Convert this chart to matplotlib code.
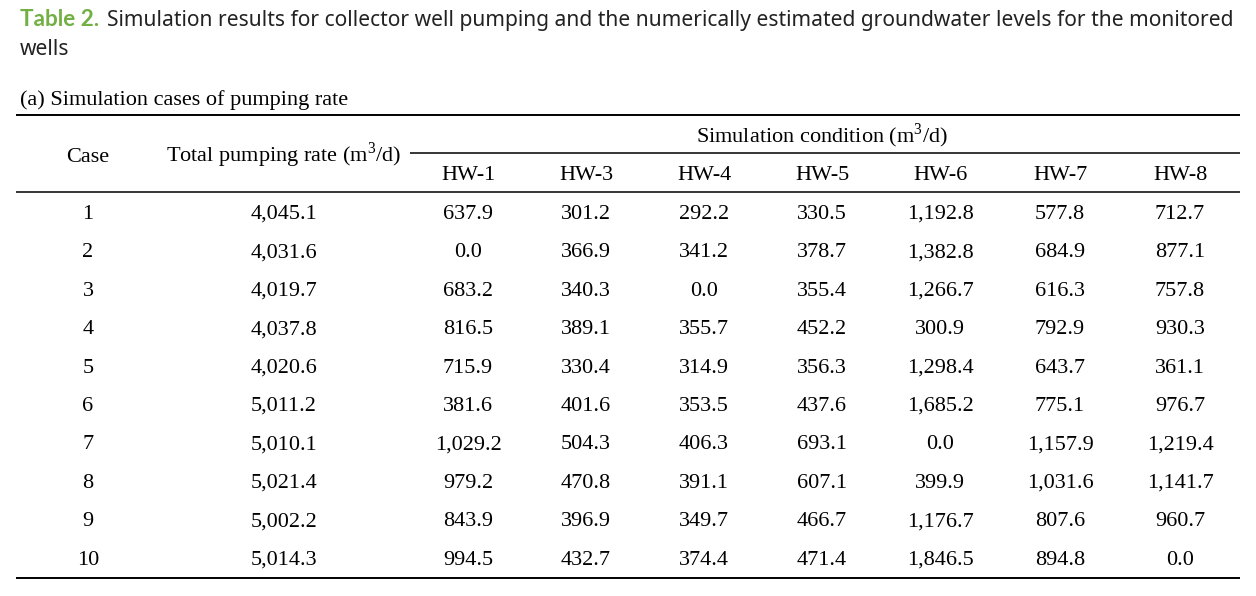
import matplotlib.pyplot as plt

plt.rcParams['mathtext.fontset'] = 'custom'
plt.rcParams['mathtext.rm'] = 'Liberation Serif'

# table contents
cases = [1, 2, 3, 4, 5, 6, 7, 8, 9, 10]
total_rate = ['4,045.1', '4,031.6', '4,019.7', '4,037.8', '4,020.6',
              '5,011.2', '5,010.1', '5,021.4', '5,002.2', '5,014.3']
wells = ['HW-1', 'HW-3', 'HW-4', 'HW-5', 'HW-6', 'HW-7', 'HW-8']
hw1 = ['637.9', '0.0', '683.2', '816.5', '715.9', '381.6', '1,029.2', '979.2', '843.9', '994.5']
hw3 = ['301.2', '366.9', '340.3', '389.1', '330.4', '401.6', '504.3', '470.8', '396.9', '432.7']
hw4 = ['292.2', '341.2', '0.0', '355.7', '314.9', '353.5', '406.3', '391.1', '349.7', '374.4']
hw5 = ['330.5', '378.7', '355.4', '452.2', '356.3', '437.6', '693.1', '607.1', '466.7', '471.4']
hw6 = ['1,192.8', '1,382.8', '1,266.7', '300.9', '1,298.4', '1,685.2', '0.0', '399.9', '1,176.7', '1,846.5']
hw7 = ['577.8', '684.9', '616.3', '792.9', '643.7', '775.1', '1,157.9', '1,031.6', '807.6', '894.8']
hw8 = ['712.7', '877.1', '757.8', '930.3', '361.1', '976.7', '1,219.4', '1,141.7', '960.7', '0.0']
well_cols = [hw1, hw3, hw4, hw5, hw6, hw7, hw8]

title_label = 'Table 2.'
title_text = ('Simulation results for collector well pumping and the numerically '
              'estimated groundwater levels for the monitored')
title_line2 = 'wells'
subtitle = '(a) Simulation cases of pumping rate'

W, H = 1256, 596
fig = plt.figure(figsize=(W / 100, H / 100), dpi=100)
ax = fig.add_axes([0, 0, 1, 1])
ax.set_xlim(0, W)
ax.set_ylim(H, 0)
ax.axis('off')

serif = 'Liberation Serif'
sans = 'Noto Sans'
fs = 16
tfs = 15.1

# caption: green bold label, then the rest of the line right after it
t = ax.text(20, 26, title_label, fontsize=16.2, family='Lato', weight='bold',
            color='#72b043', va='baseline', ha='left')
fig.canvas.draw()
x_end = ax.transData.inverted().transform(t.get_window_extent().p1)[0]
ax.text(x_end + 8, 26, title_text, fontsize=tfs, family=sans,
        color='#222222', va='baseline', ha='left')
ax.text(20, 55, title_line2, fontsize=tfs, family=sans, color='#222222',
        va='baseline', ha='left')
ax.text(20, 105, subtitle, fontsize=fs, family=serif, va='baseline', ha='left')

# rules
left, right = 16, 1240
ax.hlines(115, left, right, color='black', lw=1.4)
ax.hlines(153, 410, right, color='black', lw=1.1)
ax.hlines(192, left, right, color='black', lw=1.1)
ax.hlines(578, left, right, color='black', lw=1.4)

# header
case_x, total_x = 88, 284
well_x = [468, 586, 704, 822, 940, 1060, 1180]
ax.text(case_x, 162, 'Case', fontsize=fs, family=serif, ha='center', va='baseline')
ax.text(total_x, 162, r'Total pumping rate (m$^{\mathrm{3}}$/d)', fontsize=fs,
        family=serif, ha='center', va='baseline')
ax.text(822, 142, r'Simulation condition (m$^{\mathrm{3}}$/d)', fontsize=fs,
        family=serif, ha='center', va='baseline')
for x, name in zip(well_x, wells):
    ax.text(x, 180, name, fontsize=fs, family=serif, ha='center', va='baseline')

# body
row0, row_step = 219, 38.4
for i, c in enumerate(cases):
    y = row0 + i * row_step
    ax.text(case_x, y, str(c), fontsize=fs, family=serif, ha='center', va='baseline')
    ax.text(total_x, y, total_rate[i], fontsize=fs, family=serif, ha='center', va='baseline')
    for x, col in zip(well_x, well_cols):
        ax.text(x, y, col[i], fontsize=fs, family=serif, ha='center', va='baseline')

fig.savefig('out.png', dpi=100)
